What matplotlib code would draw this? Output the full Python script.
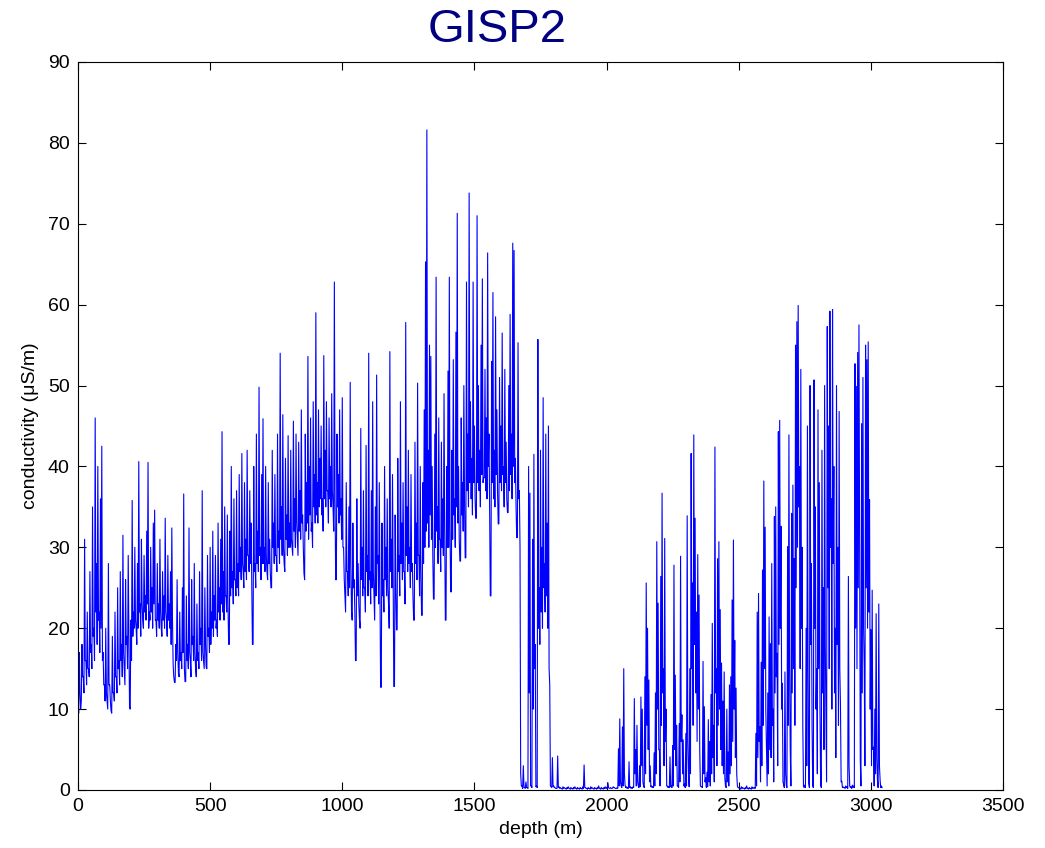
import numpy as np
import matplotlib
matplotlib.use("Agg")
import matplotlib.pyplot as plt

plt.rcParams["font.family"] = ["Liberation Sans", "DejaVu Sans"]

# conductivity (uS/m): one upper reading every 5 m ...
cond_0000 = [
    12, 17, 10, 18, 14, 31, 16, 22, 15, 27, 18, 35, 20, 46, 28, 40, 22, 36, 42.5, 17,
    13, 20, 11, 28, 13, 9.8, 19, 12, 22, 14, 25, 16, 27, 18, 31.5, 15, 26, 19, 29, 10.3,
    21, 35.8, 22, 30, 20, 28, 40.6, 23, 31, 21, 29, 24, 32, 40.5, 22, 30, 25, 33, 34.6, 21,
    28, 23, 31, 20, 27, 24, 33.6, 21, 29, 23, 27, 32.4, 15.5, 13.3, 18, 26, 14.5, 22, 17, 25,
    36.6, 13.4, 24, 18, 32.4, 16, 26, 19, 28, 15, 23, 17, 27, 20, 37, 16, 25, 15.2, 29, 20,
]
cond_0500 = [
    30, 22, 32, 24, 29, 21, 33, 25, 31, 44.3, 27, 35, 24, 34, 18, 32, 40, 27, 36, 26,
    37, 28, 39, 30, 41.6, 27, 38, 31, 42, 29, 37, 33, 18, 40, 28, 44, 32, 49.8, 30, 39,
    45.9, 30, 40, 27, 38, 31, 25, 42, 33, 39, 29, 44, 32, 54, 35, 46.4, 28, 41, 34, 43.8,
    33, 42, 30, 45.6, 36, 44, 31, 43, 37, 47, 34, 26.8, 44, 38, 53.6, 40, 46, 33, 48, 39,
    59, 38, 47, 41, 45, 36, 53.7, 42, 48, 37, 46, 40, 49, 35, 62.8, 26, 44, 39, 47, 36,
]
cond_1000 = [
    48.5, 30, 24, 38, 27, 35, 50.4, 22, 33, 26, 16, 36, 28, 21, 44.7, 30, 37, 25, 42.6, 29,
    54, 27, 37, 48, 24, 35, 51.3, 29, 38, 12.7, 33, 26, 40, 30, 36, 23, 54.2, 31, 39, 12.8,
    34, 19.8, 41, 29, 48, 33, 38, 27, 57.8, 35, 42, 30, 39, 28, 21, 43, 33, 50.3, 29, 40,
    21.6, 38, 47, 65.3, 81.6, 42, 55, 53.6, 40, 23.6, 44, 63.4, 35, 46, 31, 43, 36, 49, 21, 40,
    51.8, 63.4, 24.5, 42, 53.2, 36, 56.6, 71.3, 40, 28.3, 46, 38, 50, 28.7, 62.8, 44, 73.8, 48, 41, 62.8,
]
cond_1500 = [
    45, 33.6, 71, 50, 42, 55, 63.2, 38.6, 52, 46, 66.4, 44, 24, 53, 61.5, 42, 58.5, 47, 32.9, 51,
    45, 56.5, 40, 52, 43, 34.3, 50, 58.8, 44, 67.6, 66.7, 41, 31.2, 55.3, 37, 2, 0.5, 3, 0.3, 1,
    0.3, 40, 36.7, 0.5, 31, 41.5, 18, 0.5, 55.7, 25, 42, 30, 48.5, 28, 44, 33, 45, 13, 0.4, 4,
    0.5, 0.3, 0.2, 4.2, 0.4, 0.3, 0.2, 0.4, 0.3, 0.2, 0.3, 0.4, 0.2, 0.3, 0.2, 0.3, 0.4, 0.2, 0.3, 0.2,
    0.3, 0.2, 0.4, 3.1, 0.3, 0.2, 0.3, 0.2, 0.4, 0.3, 0.2, 0.3, 0.2, 0.3, 0.5, 0.2, 0.3, 0.2, 0.3, 0.4,
]
cond_2000 = [
    0.3, 0.9, 0.2, 0.3, 0.2, 0.4, 0.3, 0.2, 0.3, 5.1, 8.8, 0.5, 7.8, 15, 0.6, 0.4, 0.3, 3.5, 0.4, 0.3,
    0.4, 11.3, 5, 8, 0.5, 3, 11.5, 10, 0.5, 14, 25.6, 20, 13.6, 3, 0.5, 0.4, 4.6, 12, 30.7, 23.1,
    5, 26.4, 36.7, 15, 31.1, 10, 0.5, 0.4, 4.1, 0.5, 5.5, 27.8, 14.2, 8, 0.5, 8.2, 28.9, 9.3, 6.2, 0.8,
    7, 33.9, 2, 15, 41.6, 25.6, 43.9, 33.6, 22, 29.1, 24.1, 0.5, 0.4, 15.9, 10.3, 1.5, 2.2, 8.7, 6, 11.8,
    20.6, 8, 42.4, 15, 28.6, 30.7, 22.3, 15.7, 11, 14.6, 0.5, 10, 4.7, 13, 14, 23.5, 30.9, 18.5, 12.6, 0.5,
]
cond_2500 = [
    0.3, 0.2, 0.4, 0.3, 0.2, 0.3, 0.5, 0.2, 0.3, 0.2, 0.4, 0.3, 0.3, 7, 22, 24.3, 7.8, 15.8, 27.2, 38.2,
    32.5, 5.4, 12, 21.4, 18.1, 28, 10, 33.8, 35, 16.9, 44.3, 45.7, 32.6, 13.2, 0.7, 14.6, 0.6, 30.1, 43.9, 4.9,
    34.2, 37.7, 28.6, 55, 57.9, 59.9, 40, 52, 30, 0.5, 0.6, 20, 45, 0.8, 50, 28, 0.5, 50.7, 35, 15,
    47, 38, 0.6, 42, 25, 50, 10, 57.3, 45, 59.2, 36, 59.4, 40, 20, 50, 30, 46.8, 10.5, 1.1, 0.4,
    0.3, 0.5, 0.4, 26.4, 0.5, 0.4, 0.6, 0.5, 52.7, 49.9, 54.1, 57.5, 3.7, 45.3, 51, 15, 55, 53.2, 55.4, 35.9,
]
cond_3000 = [19.8, 24.7, 5.3, 10, 21.8, 1.2, 23, 1.2, 0.5]

# ... and one lower reading (trough) 2.5 m further down
low_0000 = [
    9.5, 12, 11, 14, 12, 16, 13, 15, 14, 17, 15, 19, 16, 22, 18, 21, 17, 20, 16, 13,
    11, 12, 10, 13, 11, 9.5, 12, 11, 14, 12, 15, 13, 16, 14, 17, 13, 18, 15, 19, 10,
    16, 19, 20, 21, 18, 20, 22, 19, 23, 20, 22, 21, 23, 20, 21, 22, 20, 23, 21, 19,
    21, 20, 22, 19, 21, 20, 22, 19, 21, 20, 18, 21, 14, 13.3, 16, 17, 14, 16, 15, 17,
    15, 13.4, 16, 15, 17, 14, 18, 16, 17, 14, 16, 15, 18, 16, 17, 15, 18, 15, 19, 17,
]
low_0500 = [
    18, 20, 19, 21, 20, 19, 22, 21, 23, 22, 21, 24, 22, 23, 18, 24, 25, 23, 26, 24,
    25, 24, 27, 26, 28, 25, 27, 26, 29, 27, 28, 26, 18, 27, 25, 28, 27, 29, 26, 28,
    28, 27, 29, 26, 28, 27, 25, 30, 28, 29, 27, 30, 28, 31, 29, 30, 27, 31, 29, 30,
    30, 31, 29, 32, 30, 33, 29, 32, 31, 33, 30, 26, 32, 33, 31, 34, 32, 30, 35, 33,
    34, 33, 35, 36, 34, 32, 36, 35, 37, 33, 36, 35, 37, 32, 36, 26, 35, 33, 34, 31,
]
low_1000 = [
    30, 26, 22, 27, 24, 25, 28, 21, 25, 22, 16, 24, 23, 20, 26, 24, 25, 22, 27, 24,
    26, 23, 25, 27, 21, 24, 28, 23, 25, 12.7, 24, 22, 26, 24, 25, 20, 27, 25, 26, 12.8,
    25, 19.8, 27, 24, 28, 26, 27, 23, 29, 27, 28, 25, 27, 24, 21, 28, 26, 29, 24, 27,
    21.6, 28, 30, 32, 33, 30, 34, 31, 29, 23.6, 30, 32, 28, 31, 27, 30, 29, 32, 21, 30,
    30, 33, 24.5, 31, 34, 30, 35, 33, 31, 28.3, 34, 32, 36, 28.7, 37, 35, 38, 36, 34, 38,
]
low_1500 = [
    36, 33.6, 38, 37, 35, 39, 38, 38.6, 37, 36, 40, 35, 24, 38, 36, 35, 39, 37, 32.9, 38,
    37, 39, 35, 38, 36, 34.3, 37, 39, 36, 40, 38, 35, 31.2, 36, 30, 0.5, 0.2, 0.3, 0.2, 0.3,
    0.2, 12, 0.5, 0.3, 10, 15, 0.4, 0.3, 20, 18, 22, 20, 25, 22, 24, 20, 15, 0.5, 0.3, 0.4,
    0.3, 0.2, 0.2, 0.3, 0.2, 0.2, 0.1, 0.2, 0.2, 0.1, 0.2, 0.2, 0.1, 0.2, 0.1, 0.2, 0.2, 0.1, 0.2, 0.1,
    0.2, 0.1, 0.2, 0.3, 0.2, 0.1, 0.2, 0.1, 0.2, 0.2, 0.1, 0.2, 0.1, 0.2, 0.2, 0.1, 0.2, 0.1, 0.2, 0.2,
]
low_2000 = [
    0.2, 0.3, 0.2, 0.2, 0.2, 0.3, 0.2, 0.2, 0.2, 0.5, 1, 0.3, 0.5, 2, 0.3, 0.2, 0.2, 0.3, 0.2, 0.2,
    0.3, 2, 0.5, 1, 0.3, 0.4, 3, 1, 0.3, 2, 8, 5, 1, 0.4, 0.3, 0.3, 0.5, 2, 10, 5,
    0.5, 8, 12, 3, 6, 0.5, 0.3, 0.3, 0.4, 0.3, 0.5, 5, 3, 0.5, 0.3, 1, 6, 2, 0.5, 0.3,
    0.5, 6, 0.4, 2, 15, 8, 18, 12, 6, 10, 5, 0.4, 0.3, 2, 1, 0.3, 0.4, 1, 0.5, 2,
    4, 1, 12, 3, 8, 10, 5, 3, 2, 1.5, 0.3, 1, 0.5, 2, 3, 6, 10, 4, 2, 0.3,
]
low_2500 = [
    0.2, 0.1, 0.2, 0.2, 0.1, 0.2, 0.2, 0.1, 0.2, 0.1, 0.2, 0.2, 0.2, 0.5, 4, 6, 1, 3, 8, 15,
    10, 0.5, 2, 5, 4, 8, 1, 12, 14, 3, 18, 20, 10, 1, 0.3, 2, 0.3, 8, 15, 0.5,
    12, 15, 8, 25, 30, 35, 15, 20, 8, 0.3, 0.3, 3, 15, 0.3, 18, 8, 0.3, 20, 10, 2,
    15, 10, 0.3, 12, 5, 18, 1, 25, 15, 30, 10, 28, 12, 4, 18, 8, 15, 1, 0.3, 0.3,
    0.2, 0.3, 0.2, 3, 0.3, 0.2, 0.3, 0.3, 20, 15, 25, 30, 0.5, 12, 20, 3, 25, 20, 22, 10,
]
low_3000 = [3, 5, 0.5, 2, 4, 0.3, 3, 0.3, 0.3]

peaks = np.array(cond_0000 + cond_0500 + cond_1000 + cond_1500
                 + cond_2000 + cond_2500 + cond_3000)
troughs = np.array(low_0000 + low_0500 + low_1000 + low_1500
                   + low_2000 + low_2500 + low_3000)
assert len(peaks) == len(troughs)

# interleave the two readings along depth: peak at 5k m, trough at 5k+2.5 m
conductivity = np.empty(2 * len(peaks))
conductivity[0::2] = peaks
conductivity[1::2] = troughs
depth = np.arange(len(conductivity)) * 2.5

fig = plt.figure(figsize=(10.45, 8.48), dpi=100)
ax = fig.add_axes([78 / 1045, 58 / 848, 925 / 1045, 728 / 848])

ax.plot(depth, conductivity, color="#0000FF", lw=0.8)

ax.set_xlim(0, 3500)
ax.set_ylim(0, 90)
ax.set_xticks(np.arange(0, 3501, 500))
ax.set_yticks(np.arange(0, 91, 10))
ax.tick_params(direction="in", length=6, width=0.8, top=True, right=True,
               labelsize=14, pad=6)
for s in ax.spines.values():
    s.set_linewidth(0.8)

ax.set_xlabel("depth (m)", fontsize=14, labelpad=4)
ax.set_ylabel("conductivity (\u03bcS/m)", fontsize=14, labelpad=6)
fig.text(497 / 1045, 1 - 30 / 848, "GISP2", color="#000080", fontsize=34,
         ha="center", va="center")

fig.savefig("out.png", dpi=100)
